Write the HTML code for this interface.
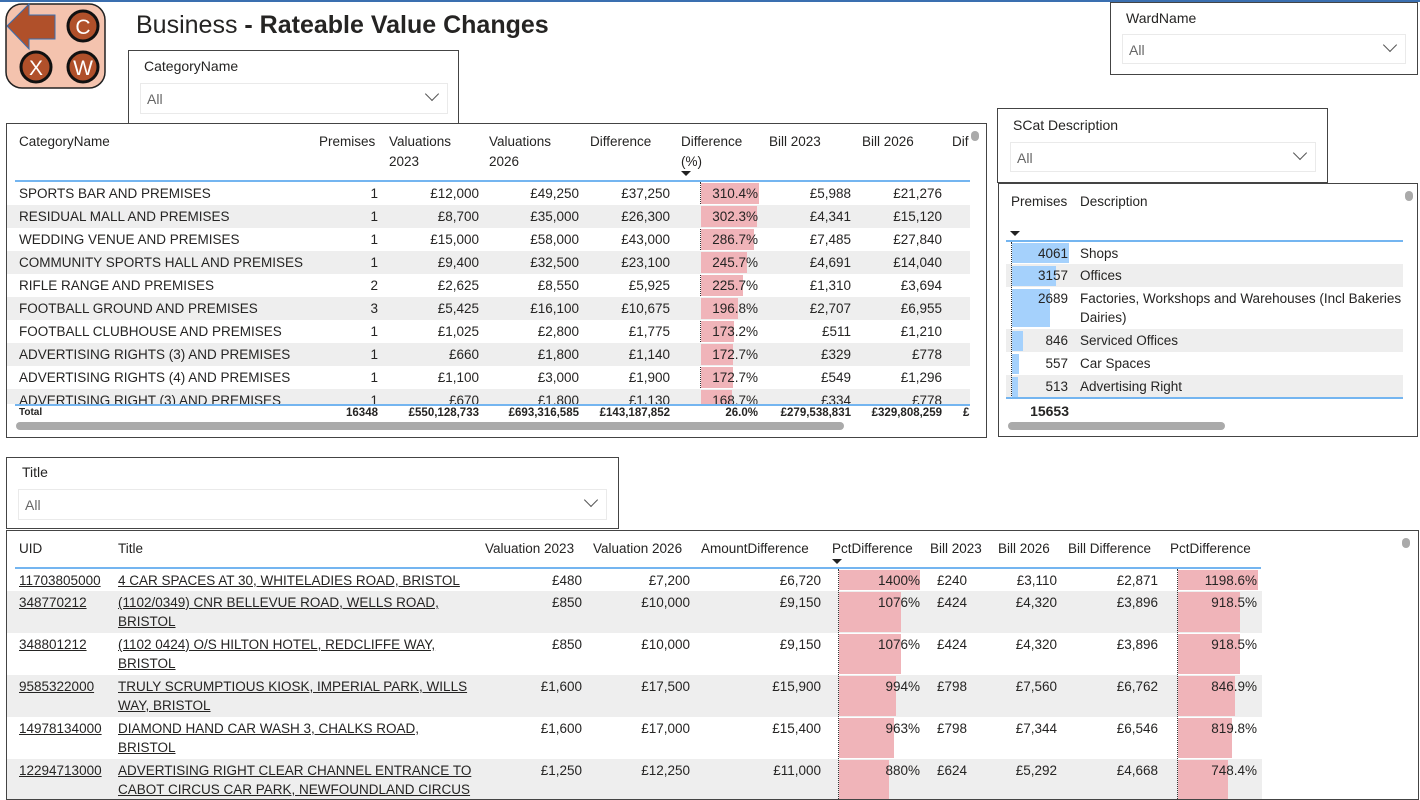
<!DOCTYPE html>
<html><head><meta charset="utf-8"><style>
body{margin:0;width:1420px;height:792px;overflow:hidden;background:#fff;font-family:"Liberation Sans",sans-serif;color:#252423;position:relative}
.a{position:absolute;white-space:nowrap}
.box{position:absolute;border:1px solid #444;box-sizing:border-box;background:#fff}
.lbl{position:absolute;font-size:14px;color:#252423}
.dd{position:absolute;border:1px solid #eaeaea;box-sizing:border-box;font-size:14px;color:#666}
.dd span{position:absolute;left:6px;top:7px}
.dd i{position:absolute;right:10px;top:5px;width:9px;height:9px;border-right:1px solid #555;border-bottom:1px solid #555;transform:rotate(45deg)}
.row{position:absolute;left:0;height:23px}
.c{position:absolute;top:2px;font-size:13.5px;line-height:19px;white-space:nowrap}
.r{text-align:right}
.bar{position:absolute;background:#f0b4b9}
.bb{position:absolute;background:#a5d1fc}
.g{background:#eeeeee}
.h{position:absolute;font-size:13.5px;line-height:20px;color:#252423}
.u{text-decoration:underline}
.dot{position:absolute;border-left:1px dotted #333}
</style></head><body>
<div class="a" style="left:0;top:0;width:1420px;height:2px;background:#3a6fb0"></div>

<svg class="a" style="left:5px;top:3px" width="102" height="87" viewBox="0 0 102 87">
<rect x="1" y="1" width="99" height="84" rx="16" fill="#f4c3ae" stroke="#222" stroke-width="1.5"/>
<polygon points="2,23 24,1 24,12 50,12 50,36 24,36 24,46" fill="#b0502a" stroke="#3a6fb0" stroke-width="1"/>
<circle cx="78" cy="23" r="15" fill="#b0502a" stroke="#111" stroke-width="3"/>
<circle cx="31" cy="64" r="15" fill="#b0502a" stroke="#111" stroke-width="3"/>
<circle cx="78" cy="64" r="15" fill="#b0502a" stroke="#111" stroke-width="3"/>
<text x="78" y="31" font-size="21" fill="#fff" text-anchor="middle" font-family="Liberation Sans">C</text>
<text x="31" y="72" font-size="21" fill="#fff" text-anchor="middle" font-family="Liberation Sans">X</text>
<text x="78" y="72" font-size="21" fill="#fff" text-anchor="middle" font-family="Liberation Sans">W</text>
</svg>
<div class="a" style="left:136px;top:11px;font-size:25px;color:#252423">Business <b>- Rateable Value Changes</b></div>

<!-- slicers -->
<div class="box" style="left:128px;top:50px;width:331px;height:74px"><div class="lbl" style="left:15px;top:7px">CategoryName</div><div class="dd" style="left:11px;top:32px;width:308px;height:31px"><span>All</span><i></i></div></div>
<div class="box" style="left:1110px;top:2px;width:308px;height:73px"><div class="lbl" style="left:15px;top:7px">WardName</div><div class="dd" style="left:11px;top:31px;width:284px;height:30px"><span>All</span><i></i></div></div>
<div class="box" style="left:997px;top:108px;width:331px;height:75px"><div class="lbl" style="left:15px;top:8px">SCat Description</div><div class="dd" style="left:12px;top:33px;width:306px;height:30px"><span>All</span><i></i></div></div>
<div class="box" style="left:6px;top:457px;width:613px;height:72px"><div class="lbl" style="left:15px;top:6px">Title</div><div class="dd" style="left:11px;top:31px;width:589px;height:31px"><span>All</span><i></i></div></div>

<!-- table 1 -->
<div class="box" style="left:6px;top:123px;width:981px;height:315px;overflow:hidden">
<div class="h" style="left:12px;top:8px">CategoryName</div>
<div class="h" style="left:312px;top:8px">Premises</div>
<div class="h" style="left:382px;top:8px">Valuations<br>2023</div>
<div class="h" style="left:482px;top:8px">Valuations<br>2026</div>
<div class="h" style="left:583px;top:8px">Difference</div>
<div class="h" style="left:674px;top:8px">Difference<br>(%)</div>
<div class="a" style="left:674px;top:47px;width:0;height:0;border-left:5px solid transparent;border-right:5px solid transparent;border-top:5px solid #222"></div>
<div class="h" style="left:762px;top:8px">Bill 2023</div>
<div class="h" style="left:855px;top:8px">Bill 2026</div>
<div class="h" style="left:945px;top:8px;width:18px;overflow:hidden">Dif</div>
<div class="a" style="left:964px;top:7px;width:8px;height:10px;border-radius:4px;background:#aaa"></div>
<div class="a" style="left:8px;top:56px;width:955px;height:2px;background:#74b5f0"></div>
<div class="a" style="left:0;top:58px;width:965px;height:222px;overflow:hidden">
<div class="dot" style="left:693px;top:0;height:222px"></div>
<div class="row" style="top:0;width:963px"><div class="bar" style="left:694px;top:1px;width:58px;height:21px"></div><div class="c" style="left:12px">SPORTS BAR AND PREMISES</div><div class="c r" style="left:300px;width:71px">1</div><div class="c r" style="left:380px;width:92px">£12,000</div><div class="c r" style="left:480px;width:92px">£49,250</div><div class="c r" style="left:570px;width:93px">£37,250</div><div class="c r" style="left:690px;width:61px">310.4%</div><div class="c r" style="left:760px;width:84px">£5,988</div><div class="c r" style="left:850px;width:85px">£21,276</div></div>
<div class="row g" style="top:23px;width:963px"><div class="bar" style="left:694px;top:1px;width:56px;height:21px"></div><div class="c" style="left:12px">RESIDUAL MALL AND PREMISES</div><div class="c r" style="left:300px;width:71px">1</div><div class="c r" style="left:380px;width:92px">£8,700</div><div class="c r" style="left:480px;width:92px">£35,000</div><div class="c r" style="left:570px;width:93px">£26,300</div><div class="c r" style="left:690px;width:61px">302.3%</div><div class="c r" style="left:760px;width:84px">£4,341</div><div class="c r" style="left:850px;width:85px">£15,120</div></div>
<div class="row" style="top:46px;width:963px"><div class="bar" style="left:694px;top:1px;width:53px;height:21px"></div><div class="c" style="left:12px">WEDDING VENUE AND PREMISES</div><div class="c r" style="left:300px;width:71px">1</div><div class="c r" style="left:380px;width:92px">£15,000</div><div class="c r" style="left:480px;width:92px">£58,000</div><div class="c r" style="left:570px;width:93px">£43,000</div><div class="c r" style="left:690px;width:61px">286.7%</div><div class="c r" style="left:760px;width:84px">£7,485</div><div class="c r" style="left:850px;width:85px">£27,840</div></div>
<div class="row g" style="top:69px;width:963px"><div class="bar" style="left:694px;top:1px;width:46px;height:21px"></div><div class="c" style="left:12px">COMMUNITY SPORTS HALL AND PREMISES</div><div class="c r" style="left:300px;width:71px">1</div><div class="c r" style="left:380px;width:92px">£9,400</div><div class="c r" style="left:480px;width:92px">£32,500</div><div class="c r" style="left:570px;width:93px">£23,100</div><div class="c r" style="left:690px;width:61px">245.7%</div><div class="c r" style="left:760px;width:84px">£4,691</div><div class="c r" style="left:850px;width:85px">£14,040</div></div>
<div class="row" style="top:92px;width:963px"><div class="bar" style="left:694px;top:1px;width:42px;height:21px"></div><div class="c" style="left:12px">RIFLE RANGE AND PREMISES</div><div class="c r" style="left:300px;width:71px">2</div><div class="c r" style="left:380px;width:92px">£2,625</div><div class="c r" style="left:480px;width:92px">£8,550</div><div class="c r" style="left:570px;width:93px">£5,925</div><div class="c r" style="left:690px;width:61px">225.7%</div><div class="c r" style="left:760px;width:84px">£1,310</div><div class="c r" style="left:850px;width:85px">£3,694</div></div>
<div class="row g" style="top:115px;width:963px"><div class="bar" style="left:694px;top:1px;width:37px;height:21px"></div><div class="c" style="left:12px">FOOTBALL GROUND AND PREMISES</div><div class="c r" style="left:300px;width:71px">3</div><div class="c r" style="left:380px;width:92px">£5,425</div><div class="c r" style="left:480px;width:92px">£16,100</div><div class="c r" style="left:570px;width:93px">£10,675</div><div class="c r" style="left:690px;width:61px">196.8%</div><div class="c r" style="left:760px;width:84px">£2,707</div><div class="c r" style="left:850px;width:85px">£6,955</div></div>
<div class="row" style="top:138px;width:963px"><div class="bar" style="left:694px;top:1px;width:33px;height:21px"></div><div class="c" style="left:12px">FOOTBALL CLUBHOUSE AND PREMISES</div><div class="c r" style="left:300px;width:71px">1</div><div class="c r" style="left:380px;width:92px">£1,025</div><div class="c r" style="left:480px;width:92px">£2,800</div><div class="c r" style="left:570px;width:93px">£1,775</div><div class="c r" style="left:690px;width:61px">173.2%</div><div class="c r" style="left:760px;width:84px">£511</div><div class="c r" style="left:850px;width:85px">£1,210</div></div>
<div class="row g" style="top:161px;width:963px"><div class="bar" style="left:694px;top:1px;width:32px;height:21px"></div><div class="c" style="left:12px">ADVERTISING RIGHTS (3) AND PREMISES</div><div class="c r" style="left:300px;width:71px">1</div><div class="c r" style="left:380px;width:92px">£660</div><div class="c r" style="left:480px;width:92px">£1,800</div><div class="c r" style="left:570px;width:93px">£1,140</div><div class="c r" style="left:690px;width:61px">172.7%</div><div class="c r" style="left:760px;width:84px">£329</div><div class="c r" style="left:850px;width:85px">£778</div></div>
<div class="row" style="top:184px;width:963px"><div class="bar" style="left:694px;top:1px;width:32px;height:21px"></div><div class="c" style="left:12px">ADVERTISING RIGHTS (4) AND PREMISES</div><div class="c r" style="left:300px;width:71px">1</div><div class="c r" style="left:380px;width:92px">£1,100</div><div class="c r" style="left:480px;width:92px">£3,000</div><div class="c r" style="left:570px;width:93px">£1,900</div><div class="c r" style="left:690px;width:61px">172.7%</div><div class="c r" style="left:760px;width:84px">£549</div><div class="c r" style="left:850px;width:85px">£1,296</div></div>
<div class="row g" style="top:207px;width:963px"><div class="bar" style="left:694px;top:1px;width:31px;height:21px"></div><div class="c" style="left:12px">ADVERTISING RIGHT (3) AND PREMISES</div><div class="c r" style="left:300px;width:71px">1</div><div class="c r" style="left:380px;width:92px">£670</div><div class="c r" style="left:480px;width:92px">£1,800</div><div class="c r" style="left:570px;width:93px">£1,130</div><div class="c r" style="left:690px;width:61px">168.7%</div><div class="c r" style="left:760px;width:84px">£334</div><div class="c r" style="left:850px;width:85px">£778</div></div>
</div>
<div class="a" style="left:8px;top:280px;width:955px;height:2px;background:#74b5f0"></div>
<div class="a" style="left:0;top:281px;width:965px;height:16px;font-size:11.5px;font-weight:bold;line-height:16px">
<div class="c" style="left:12px;top:0;font-size:10px;line-height:16px">Total</div>
<div class="c r" style="left:300px;top:0;width:71px;font-size:11.5px;line-height:16px">16348</div>
<div class="c r" style="left:380px;top:0;width:92px;font-size:11.5px;line-height:16px">£550,128,733</div>
<div class="c r" style="left:480px;top:0;width:92px;font-size:11.5px;line-height:16px">£693,316,585</div>
<div class="c r" style="left:570px;top:0;width:93px;font-size:11.5px;line-height:16px">£143,187,852</div>
<div class="c r" style="left:690px;top:0;width:61px;font-size:11.5px;line-height:16px">26.0%</div>
<div class="c r" style="left:745px;top:0;width:99px;font-size:11.5px;line-height:16px">£279,538,831</div>
<div class="c r" style="left:835px;top:0;width:100px;font-size:11.5px;line-height:16px">£329,808,259</div>
<div class="c" style="left:956px;top:0;font-size:11.5px;line-height:16px">£</div>
</div>
<div class="a" style="left:9px;top:298px;width:828px;height:8px;border-radius:4px;background:#aaa"></div>
</div>

<!-- table 2 -->
<div class="box" style="left:998px;top:183px;width:420px;height:254px;overflow:hidden">
<div class="h" style="left:12px;top:8px">Premises</div>
<div class="h" style="left:81px;top:8px">Description</div>
<div class="a" style="left:11px;top:47px;width:0;height:0;border-left:5px solid transparent;border-right:5px solid transparent;border-top:5px solid #222"></div>
<div class="a" style="left:7px;top:56px;width:397px;height:2px;background:#74b5f0"></div>
<div class="a" style="left:7px;top:58px;width:397px;height:156px;overflow:hidden">
<div class="row" style="top:0;width:397px;height:22px"><div class="bb" style="left:6px;top:1px;width:57px;height:20px"></div><div class="c r" style="left:0;width:62px">4061</div><div class="c" style="left:74px">Shops</div></div>
<div class="row g" style="top:22px;width:397px;height:23px"><div class="bb" style="left:6px;top:2px;width:44px;height:20px"></div><div class="c r" style="left:0;width:62px">3157</div><div class="c" style="left:74px">Offices</div></div>
<div class="row" style="top:45px;width:397px;height:42px"><div class="bb" style="left:6px;top:2px;width:38px;height:38px"></div><div class="c r" style="left:0;width:62px">2689</div><div class="c" style="left:74px">Factories, Workshops and Warehouses (Incl Bakeries &amp;<br>Dairies)</div></div>
<div class="row g" style="top:87px;width:397px;height:23px"><div class="bb" style="left:6px;top:2px;width:11px;height:20px"></div><div class="c r" style="left:0;width:62px">846</div><div class="c" style="left:74px">Serviced Offices</div></div>
<div class="row" style="top:110px;width:397px;height:23px"><div class="bb" style="left:6px;top:2px;width:7px;height:20px"></div><div class="c r" style="left:0;width:62px">557</div><div class="c" style="left:74px">Car Spaces</div></div>
<div class="row g" style="top:133px;width:397px;height:23px"><div class="bb" style="left:6px;top:2px;width:6px;height:20px"></div><div class="c r" style="left:0;width:62px">513</div><div class="c" style="left:74px">Advertising Right</div></div>
<div class="dot" style="left:5px;top:0;height:156px"></div>
</div>
<div class="a" style="left:7px;top:213px;width:397px;height:2px;background:#74b5f0"></div>
<div class="c r" style="left:0;top:218px;width:70px;font-weight:bold;font-size:14px">15653</div>
<div class="a" style="left:9px;top:238px;width:217px;height:8px;border-radius:4px;background:#aaa"></div>
<div class="a" style="left:406px;top:7px;width:8px;height:10px;border-radius:4px;background:#aaa"></div>
</div>

<!-- table 3 -->
<div class="box" style="left:6px;top:530px;width:1413px;height:270px;overflow:hidden">
<div class="h" style="left:12px;top:8px">UID</div>
<div class="h" style="left:111px;top:8px">Title</div>
<div class="h" style="left:478px;top:8px">Valuation 2023</div>
<div class="h" style="left:586px;top:8px">Valuation 2026</div>
<div class="h" style="left:694px;top:8px">AmountDifference</div>
<div class="h" style="left:825px;top:8px">PctDifference</div>
<div class="a" style="left:825px;top:28px;width:0;height:0;border-left:5px solid transparent;border-right:5px solid transparent;border-top:5px solid #222"></div>
<div class="h" style="left:923px;top:8px">Bill 2023</div>
<div class="h" style="left:991px;top:8px">Bill 2026</div>
<div class="h" style="left:1061px;top:8px">Bill Difference</div>
<div class="h" style="left:1163px;top:8px">PctDifference</div>
<div class="a" style="left:1395px;top:7px;width:8px;height:10px;border-radius:4px;background:#aaa"></div>
<div class="a" style="left:8px;top:36px;width:1246px;height:2px;background:#74b5f0"></div>
<div class="a" style="left:0;top:38px;width:1260px;height:240px">
<div class="row" style="top:0;width:1255px;height:22px"><div class="bar" style="left:832px;top:1px;width:81px;height:20px"></div><div class="bar" style="left:1171px;top:1px;width:80px;height:20px"></div><div class="c u" style="left:12px">11703805000</div><div class="c u" style="left:111px">4 CAR SPACES AT 30, WHITELADIES ROAD, BRISTOL</div><div class="c r" style="left:480px;width:95px">£480</div><div class="c r" style="left:590px;width:93px">£7,200</div><div class="c r" style="left:700px;width:114px">£6,720</div><div class="c r" style="left:840px;width:73px">1400%</div><div class="c r" style="left:910px;width:50px">£240</div><div class="c r" style="left:980px;width:70px">£3,110</div><div class="c r" style="left:1060px;width:91px">£2,871</div><div class="c r" style="left:1170px;width:80px">1198.6%</div></div>
<div class="row g" style="top:22px;width:1255px;height:42px"><div class="bar" style="left:832px;top:1px;width:62px;height:40px"></div><div class="bar" style="left:1171px;top:1px;width:62px;height:40px"></div><div class="c u" style="left:12px">348770212</div><div class="c u" style="left:111px">(1102/0349) CNR BELLEVUE ROAD, WELLS ROAD,<br>BRISTOL</div><div class="c r" style="left:480px;width:95px">£850</div><div class="c r" style="left:590px;width:93px">£10,000</div><div class="c r" style="left:700px;width:114px">£9,150</div><div class="c r" style="left:840px;width:73px">1076%</div><div class="c r" style="left:910px;width:50px">£424</div><div class="c r" style="left:980px;width:70px">£4,320</div><div class="c r" style="left:1060px;width:91px">£3,896</div><div class="c r" style="left:1170px;width:80px">918.5%</div></div>
<div class="row" style="top:64px;width:1255px;height:42px"><div class="bar" style="left:832px;top:1px;width:62px;height:40px"></div><div class="bar" style="left:1171px;top:1px;width:62px;height:40px"></div><div class="c u" style="left:12px">348801212</div><div class="c u" style="left:111px">(1102 0424) O/S HILTON HOTEL, REDCLIFFE WAY,<br>BRISTOL</div><div class="c r" style="left:480px;width:95px">£850</div><div class="c r" style="left:590px;width:93px">£10,000</div><div class="c r" style="left:700px;width:114px">£9,150</div><div class="c r" style="left:840px;width:73px">1076%</div><div class="c r" style="left:910px;width:50px">£424</div><div class="c r" style="left:980px;width:70px">£4,320</div><div class="c r" style="left:1060px;width:91px">£3,896</div><div class="c r" style="left:1170px;width:80px">918.5%</div></div>
<div class="row g" style="top:106px;width:1255px;height:42px"><div class="bar" style="left:832px;top:1px;width:57px;height:40px"></div><div class="bar" style="left:1171px;top:1px;width:57px;height:40px"></div><div class="c u" style="left:12px">9585322000</div><div class="c u" style="left:111px">TRULY SCRUMPTIOUS KIOSK, IMPERIAL PARK, WILLS<br>WAY, BRISTOL</div><div class="c r" style="left:480px;width:95px">£1,600</div><div class="c r" style="left:590px;width:93px">£17,500</div><div class="c r" style="left:700px;width:114px">£15,900</div><div class="c r" style="left:840px;width:73px">994%</div><div class="c r" style="left:910px;width:50px">£798</div><div class="c r" style="left:980px;width:70px">£7,560</div><div class="c r" style="left:1060px;width:91px">£6,762</div><div class="c r" style="left:1170px;width:80px">846.9%</div></div>
<div class="row" style="top:148px;width:1255px;height:42px"><div class="bar" style="left:832px;top:1px;width:55px;height:40px"></div><div class="bar" style="left:1171px;top:1px;width:54px;height:40px"></div><div class="c u" style="left:12px">14978134000</div><div class="c u" style="left:111px">DIAMOND HAND CAR WASH 3, CHALKS ROAD,<br>BRISTOL</div><div class="c r" style="left:480px;width:95px">£1,600</div><div class="c r" style="left:590px;width:93px">£17,000</div><div class="c r" style="left:700px;width:114px">£15,400</div><div class="c r" style="left:840px;width:73px">963%</div><div class="c r" style="left:910px;width:50px">£798</div><div class="c r" style="left:980px;width:70px">£7,344</div><div class="c r" style="left:1060px;width:91px">£6,546</div><div class="c r" style="left:1170px;width:80px">819.8%</div></div>
<div class="row g" style="top:190px;width:1255px;height:42px"><div class="bar" style="left:832px;top:1px;width:50px;height:40px"></div><div class="bar" style="left:1171px;top:1px;width:50px;height:40px"></div><div class="c u" style="left:12px">12294713000</div><div class="c u" style="left:111px">ADVERTISING RIGHT CLEAR CHANNEL ENTRANCE TO<br>CABOT CIRCUS CAR PARK, NEWFOUNDLAND CIRCUS</div><div class="c r" style="left:480px;width:95px">£1,250</div><div class="c r" style="left:590px;width:93px">£12,250</div><div class="c r" style="left:700px;width:114px">£11,000</div><div class="c r" style="left:840px;width:73px">880%</div><div class="c r" style="left:910px;width:50px">£624</div><div class="c r" style="left:980px;width:70px">£5,292</div><div class="c r" style="left:1060px;width:91px">£4,668</div><div class="c r" style="left:1170px;width:80px">748.4%</div></div>
<div class="dot" style="left:831px;top:0;height:240px"></div>
<div class="dot" style="left:1170px;top:0;height:240px"></div>
</div>
</div>
</body></html>
